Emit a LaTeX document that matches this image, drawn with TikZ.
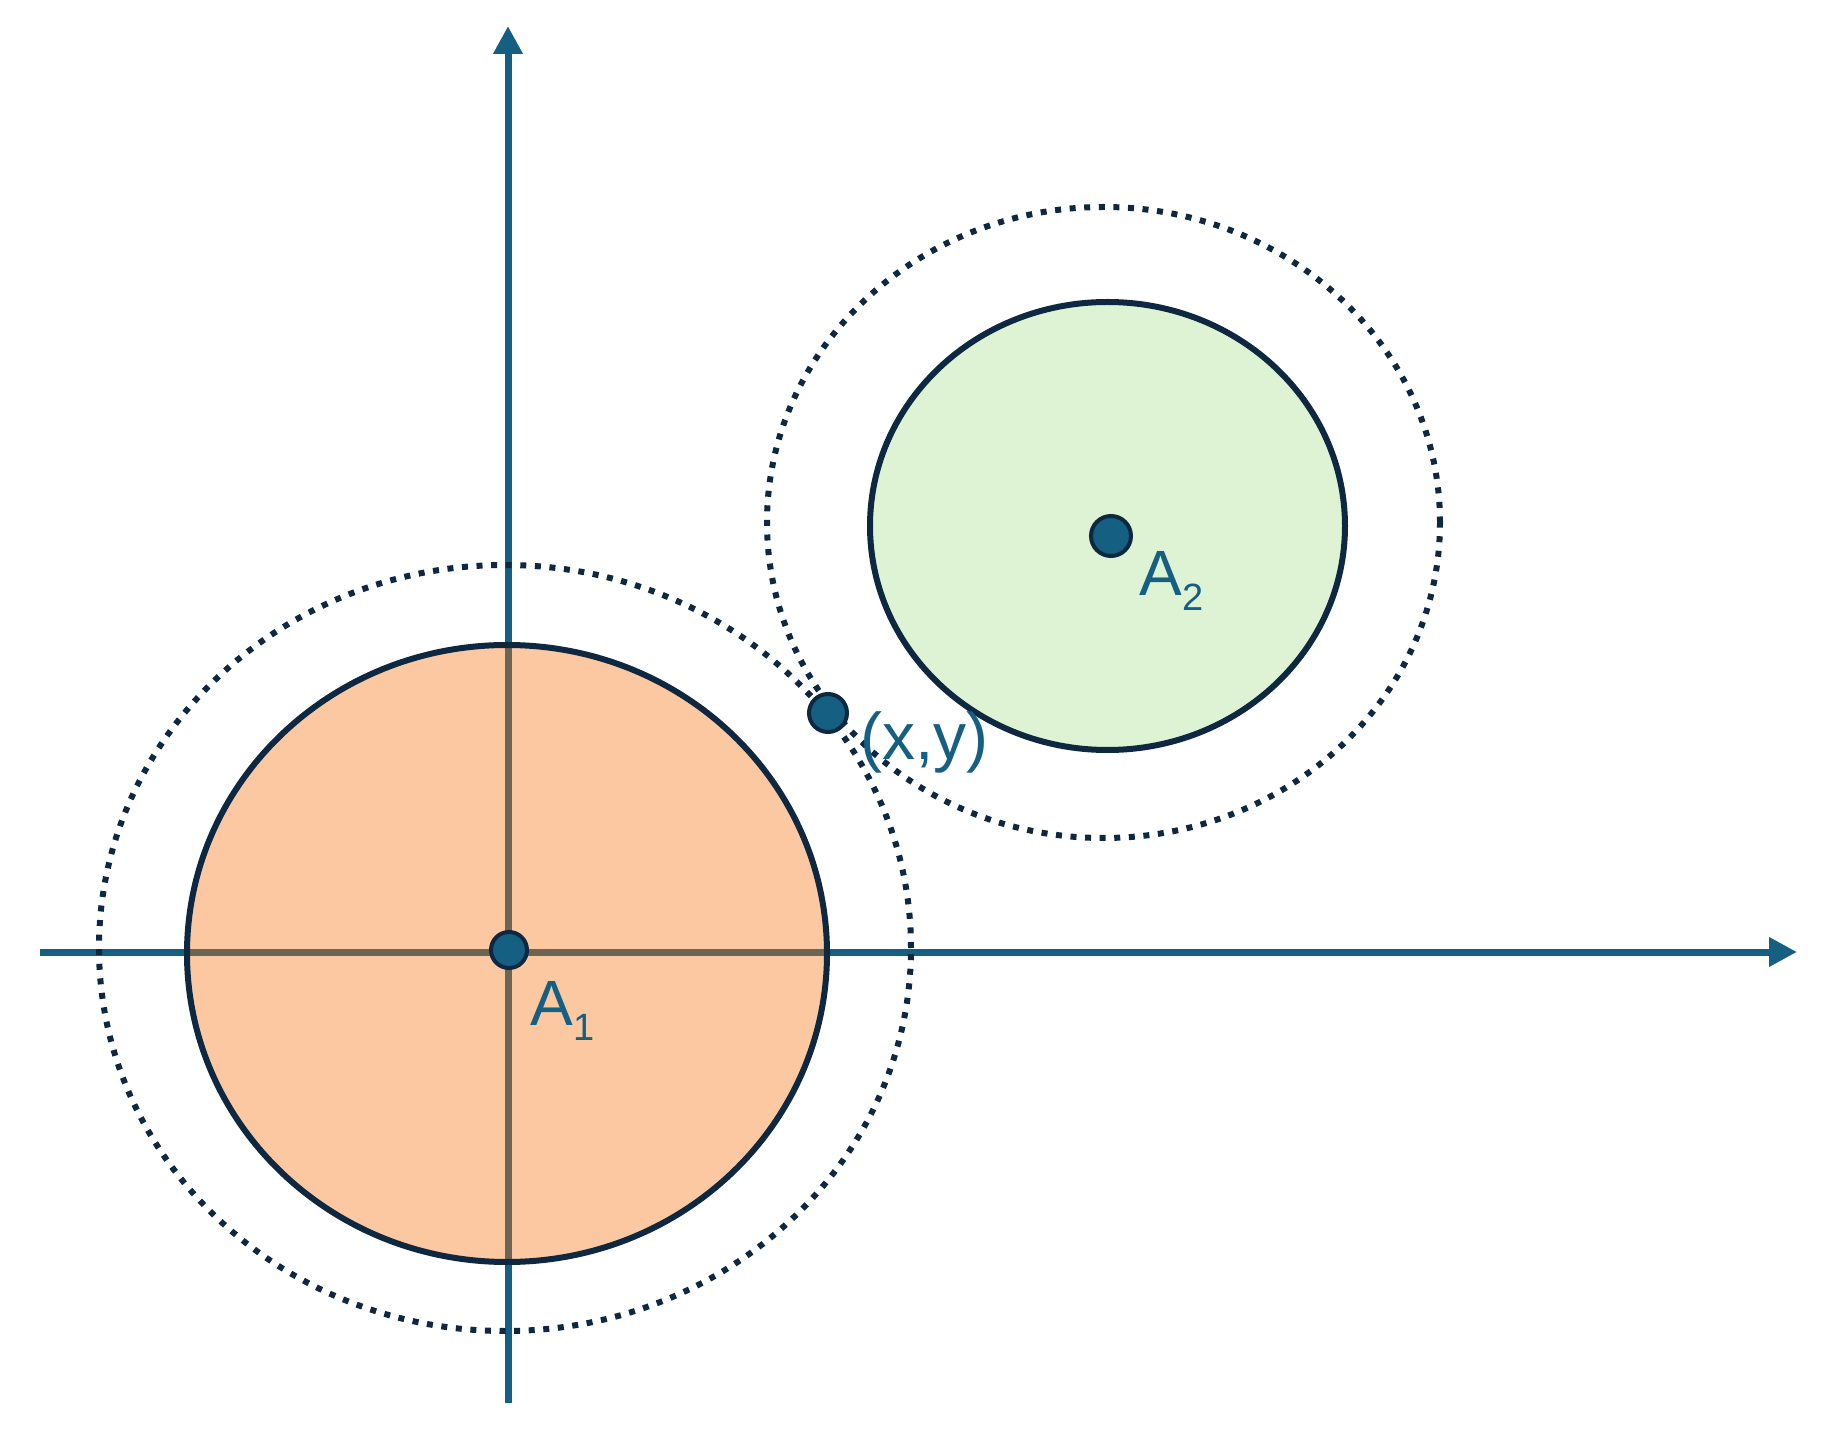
\documentclass[tikz,border=0pt]{standalone}
\usepackage{fontspec}
\setmainfont{Liberation Sans}
\usetikzlibrary{arrows.meta}
\definecolor{axisblue}{HTML}{156082}
\definecolor{navy}{HTML}{0E2841}
\definecolor{orangeacc}{RGB}{245,110,10}
\definecolor{palegreen}{HTML}{DEF3D4}
\tikzset{
  axisline/.style={draw=axisblue, line width=3.5pt, -{Triangle[length=14pt,width=14pt]}},
  solidring/.style={draw=navy, line width=3pt},
  dotring/.style={draw=navy, line width=3pt, dash pattern=on 3pt off 4.3pt},
  ptmark/.style={circle, draw=navy, fill=axisblue, line width=2pt, inner sep=0pt, minimum size=#1},
  ptmark/.default=18pt,
  lbl/.style={text=axisblue, inner sep=0pt, anchor=base west, font=\fontsize{32pt}{36pt}\selectfont}
}
\newcommand{\subidx}[1]{{\fontsize{19pt}{19pt}\selectfont\raisebox{-7.5pt}{#1}}}
\begin{document}
\begin{tikzpicture}[x=0.5pt,y=-0.5pt]
\useasboundingbox (0,0) rectangle (1822,1443);
% axes
\coordinate (xl) at (40,952);
\coordinate (xr) at (1797,952);
\coordinate (yb) at (508,1403);
\coordinate (yt) at (508,26);
\draw[axisline] (xl) -- (xr);
\draw[axisline] (yb) -- (yt);
% orange disc (translucent over the axes)
\fill[orangeacc, fill opacity=0.38] (507,953.5) ellipse [x radius=160pt, y radius=154.25pt];
\draw[solidring] (507,953.5) ellipse [x radius=160pt, y radius=154.25pt];
% green disc
\filldraw[solidring, fill=palegreen] (1107.5,526) ellipse [x radius=118.75pt, y radius=112pt];
% dotted rings
\draw[dotring] (505,948) ellipse [x radius=203pt, y radius=191.5pt];
\draw[dotring] (1103.5,522.5) ellipse [x radius=168.25pt, y radius=157.75pt];
% points
\node[ptmark=18pt] (A1) at (509,950) {};
\node[ptmark=20pt] (A2) at (1111,536) {};
\node[ptmark=19pt] (P) at (828,713) {};
% labels
\node[lbl] (L1) at (530,1025) {A\subidx{1}};
\node[lbl] (L2) at (1139,596) {A\subidx{2}};
\node[lbl, font=\fontsize{33pt}{36pt}\selectfont] (LP) at (860,760) {(x,y)};
\end{tikzpicture}
\end{document}
